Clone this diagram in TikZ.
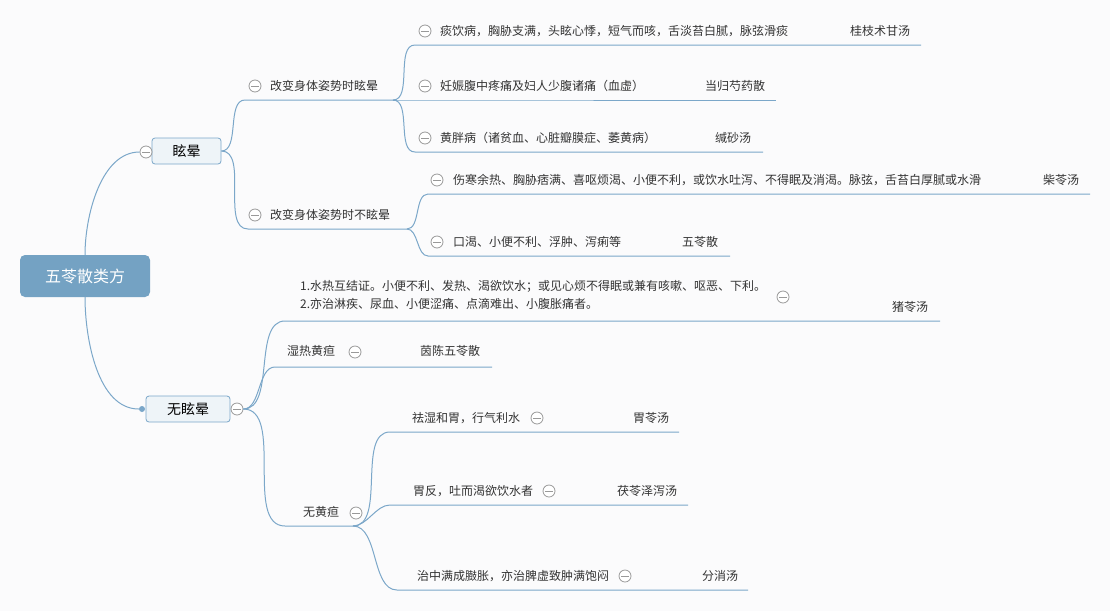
\documentclass[tikz,border=0pt]{standalone}
\usepackage{fontspec}
\setmainfont{Noto Sans CJK SC}
\usetikzlibrary{calc}
\definecolor{paper}{HTML}{FBFBFC}
\definecolor{bough}{HTML}{7BA7C9}
\definecolor{rootblue}{HTML}{74A2C3}
\definecolor{boxfill}{HTML}{EEF4F8}
\definecolor{ink}{HTML}{333333}
\definecolor{foldgray}{HTML}{999999}
\tikzset{
  branch/.style={draw=bough, line width=1pt, looseness=0.85},
  leaf/.style={anchor=west, inner sep=0pt, text=ink, font=\fontsize{12}{18}\selectfont},
  rootbox/.style={rectangle, rounded corners=5pt, fill=rootblue, text=white,
    minimum width=130pt, minimum height=42pt, font=\fontsize{16}{18}\selectfont},
  mainbox/.style={rectangle, rounded corners=3pt, draw=bough, fill=boxfill, text=black,
    line width=0.8pt, minimum width=69pt, minimum height=26pt, font=\fontsize{14}{16}\selectfont},
  fold/.style={circle, draw=foldgray, fill=white, minimum size=12pt, inner sep=0pt, line width=0.8pt,
    path picture={\draw[foldgray, line width=0.8pt]
      ([xshift=-4pt]path picture bounding box.center) -- ([xshift=4pt]path picture bounding box.center);}},
  dot/.style={circle, fill=bough, minimum size=6pt, inner sep=0pt},
}
\newcommand{\leafline}[4]{% name, start x, end x, y
  \coordinate (#1s) at (#2,#4);
  \coordinate (#1e) at (#3,#4);
}
\begin{document}
\begin{tikzpicture}[x=1pt,y=-1pt]
\useasboundingbox[fill=paper] (0,0) rectangle (1110,611);
% root and main topics
\node[rootbox] (wuling) at (85,276) {五苓散类方};
\node[mainbox] (xuan) at (186.5,151) {眩晕};
\node[mainbox, minimum width=84pt] (wuxuan) at (188,409) {无眩晕};
\node[fold] (fxuan) at (146,152) {};
\node[fold] (fwuxuan) at (237,409) {};
\node[dot] (dwuxuan) at (142,409) {};
\draw[branch] (wuling.north) to[out=90,in=180] (fxuan.west);
\draw[branch] (wuling.south) to[out=-90,in=180] (dwuxuan.west);

% xuan yun
\leafline{t1}{245}{393}{100}
\leafline{t2}{248}{407}{229}
\draw[branch] (xuan.east) to[out=0,in=180] (t1s) -- (t1e);
\draw[branch] (xuan.east) to[out=0,in=180] (t2s) -- (t2e);
\node[fold] (ft1) at (255,86) {};
\node[leaf] (xt1) at (270,86) {改变身体姿势时眩晕};
\node[fold] (ft2) at (255,215) {};
\node[leaf] (xt2) at (270,215) {改变身体姿势时不眩晕};

\foreach \n/\y/\t/\f/\fx/\ex in {
  a/31/痰饮病，胸胁支满，头眩心悸，短气而咳，舌淡苔白腻，脉弦滑痰/桂枝术甘汤/850/921,
  b/86/妊娠腹中疼痛及妇人少腹诸痛（血虚）/当归芍药散/705/776,
  c/138/黄胖病（诸贫血、心脏瓣膜症、萎黄病）/缄砂汤/715/763} {
  \leafline{\n}{415}{\ex}{\y+14}
  \draw[branch] (t1e) to[out=0,in=180] (\n s) -- (\n e);
  \node[fold] (f\n) at (425,\y) {};
  \node[leaf] (x\n) at (440,\y) {\t};
  \node[leaf] (r\n) at (\fx,\y) {\f};
}
\foreach \n/\y/\t/\f/\fx/\ex in {
  d/180/伤寒余热、胸胁痞满、喜呕烦渴、小便不利，或饮水吐泻、不得眠及消渴。脉弦，舌苔白厚腻或水滑/柴苓汤/1043/1090,
  e/242/口渴、小便不利、浮肿、泻痢等/五苓散/682/730} {
  \leafline{\n}{428}{\ex}{\y+14}
  \draw[branch] (t2e) to[out=0,in=180] (\n s) -- (\n e);
  \node[fold] (f\n) at (437,\y) {};
  \node[leaf] (x\n) at (453,\y) {\t};
  \node[leaf] (r\n) at (\fx,\y) {\f};
}

% wu xuan yun
\leafline{zhu}{285}{940}{321}
\leafline{shire}{275}{492}{367}
\leafline{wuhuang}{285}{353}{526}
\foreach \n in {zhu,shire,wuhuang}
  \draw[branch] (fwuxuan.east) to[out=0,in=180] (\n s) -- (\n e);
\node[leaf, align=left] (xzhu) at (300,294.5) {1.水热互结证。小便不利、发热、渴欲饮水；或见心烦不得眠或兼有咳嗽、呕恶、下利。\\2.亦治淋疾、尿血、小便涩痛、点滴难出、小腹胀痛者。};
\node[fold] (fzhu) at (783,297) {};
\node[leaf] (rzhu) at (892,307) {猪苓汤};
\node[leaf] (xshire) at (287,351) {湿热黄疸};
\node[fold] (fshire) at (355,352) {};
\node[leaf] (rshire) at (420,351) {茵陈五苓散};
\node[leaf] (xwuhuang) at (303,512) {无黄疸};
\node[fold] (fwuhuang) at (356,513) {};

\foreach \n/\y/\t/\tx/\fo/\f/\fx/\sx/\ex in {
  g/418/祛湿和胃，行气利水/412/537/胃苓汤/633/390/679,
  h/491/胃反，吐而渴欲饮水者/413/549/茯苓泽泻汤/617/390/688,
  i/576/治中满成臌胀，亦治脾虚致肿满饱闷/417/625/分消汤/702/397/748} {
  \leafline{\n}{\sx}{\ex}{\y+14}
  \draw[branch] (wuhuange) to[out=0,in=180] (\n s) -- (\n e);
  \node[leaf] (x\n) at (\tx,\y) {\t};
  \node[fold] (f\n) at (\fo,\y) {};
  \node[leaf] (r\n) at (\fx,\y) {\f};
}
\end{tikzpicture}
\end{document}
